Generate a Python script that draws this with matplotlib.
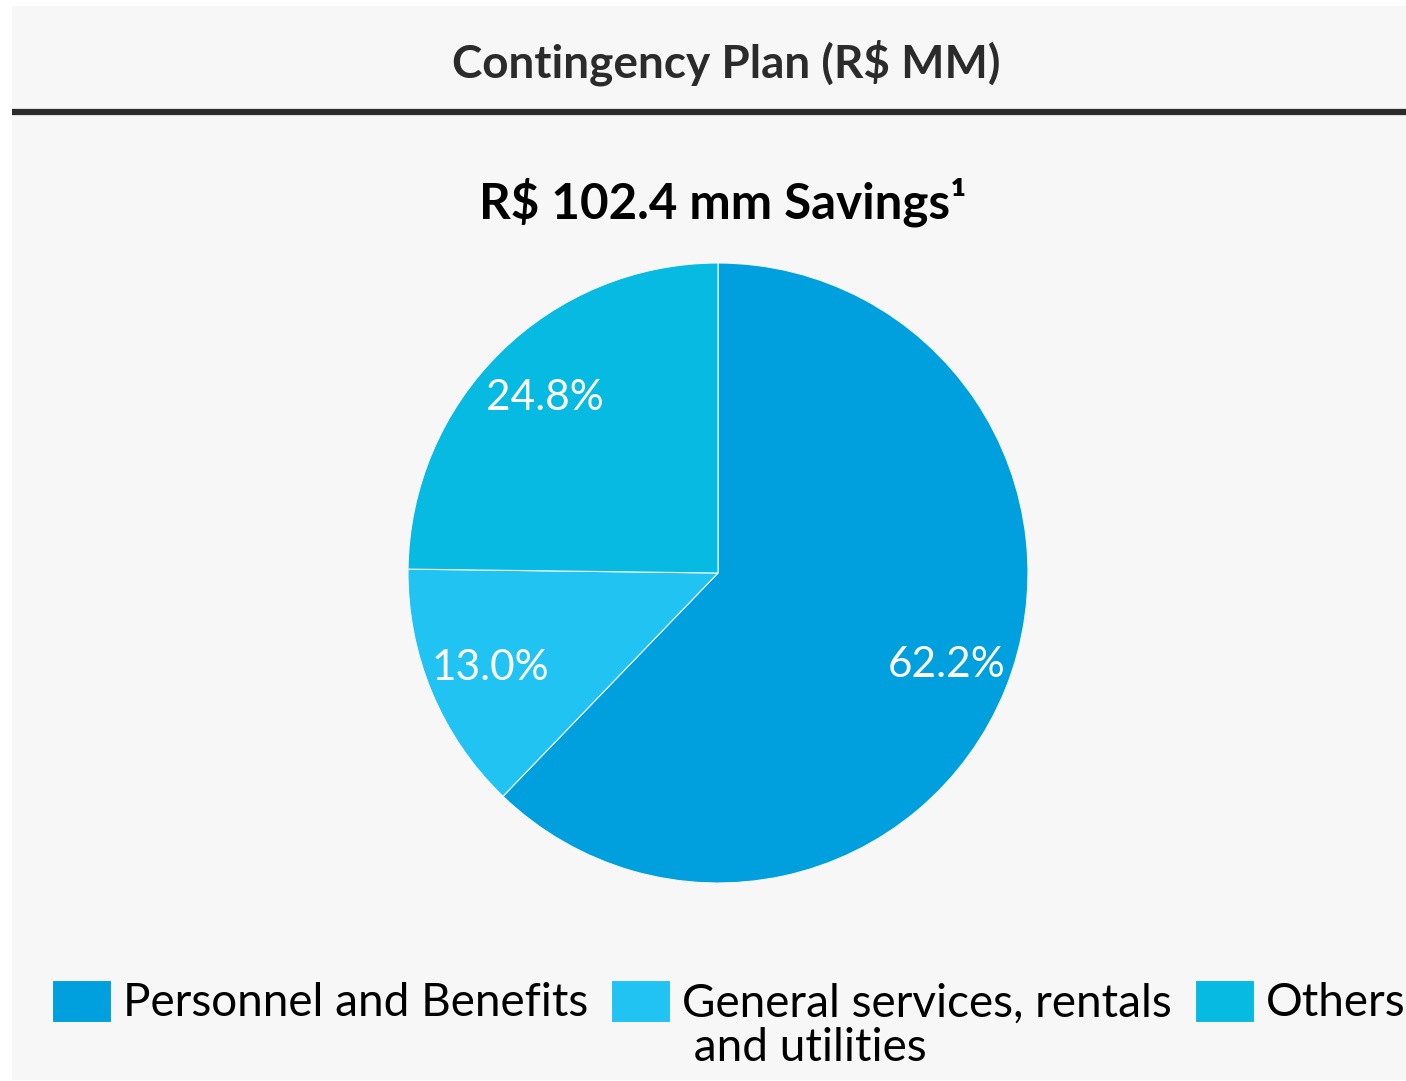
import matplotlib.pyplot as plt
from matplotlib.patches import Rectangle
from matplotlib.lines import Line2D

# data
categories = ["Personnel and Benefits", "General services, rentals\n and utilities", "Others"]
shares = [62.2, 13.0, 24.8]
colors = ["#009FDD", "#21C3F3", "#06BAE1"]

title = "Contingency Plan (R$ MM)"
subtitle = "R$ 102.4 mm Savings\u00b9"

W, H = 1406, 1081
fig = plt.figure(figsize=(W / 100, H / 100), dpi=100)
fig.patch.set_facecolor("white")

# gray panel + rule under the header
fig.patches.append(Rectangle((12 / W, 1 / H), (W - 12) / W, 1074 / H,
                             transform=fig.transFigure, facecolor="#F7F7F7",
                             edgecolor="none", zorder=-1))
fig.lines.append(Line2D([12 / W, 1.0], [1 - 112 / H, 1 - 112 / H],
                        transform=fig.transFigure, color="#2B2B2B", lw=4.5,
                        solid_capstyle="butt", zorder=-0.5))

fig.text(726 / W, 1 - 63 / H, title, ha="center", va="center",
         fontsize=33, fontweight="bold", family="Lato", color="#2B2B2B")
fig.text(723 / W, 1 - 202 / H, subtitle, ha="center", va="center",
         fontsize=35.5, fontweight="bold", family="Lato", color="black")

cx, cy, r = 718, 573, 310
ax = fig.add_axes([(cx - r) / W, (H - cy - r) / H, 2 * r / W, 2 * r / H])
ax.set_facecolor("none")
wedges, texts, autotexts = ax.pie(shares, colors=colors, startangle=90, counterclock=False,
                                  autopct="%.1f%%", pctdistance=0.795,
                                  wedgeprops=dict(linewidth=0.8, edgecolor="#F7F7F7"),
                                  textprops=dict(color="white", fontsize=30.5,
                                                 family="Lato", fontweight="normal"))
ax.set_xlim(-1, 1)
ax.set_ylim(-1, 1)

# legend: first lines only, the wrapped rest is added under its entry
first_lines = [c.split("\n")[0] for c in categories]
leg = fig.legend(wedges, first_lines, loc="center left",
                 bbox_to_anchor=(52 / W, 1 - 1002 / H),
                 ncol=3, frameon=False, handlelength=1.29, handleheight=1.05,
                 handletextpad=0.26, columnspacing=0.5, borderpad=0, borderaxespad=0,
                 prop=dict(family="Lato", size=33, weight="normal"))
for t in leg.get_texts():
    t.set_color("black")

fig.canvas.draw()
inv = fig.transFigure.inverted()
for i, c in enumerate(categories):
    parts = c.split("\n")
    if len(parts) < 2:
        continue
    bb = leg.get_texts()[i].get_window_extent()
    x, y = inv.transform((bb.x0, bb.y0 - 37))
    fig.text(x, y, "\n".join(parts[1:]), ha="left", va="baseline",
             fontsize=33, family="Lato", color="black")

fig.savefig("out.png", dpi=100, facecolor="white")
